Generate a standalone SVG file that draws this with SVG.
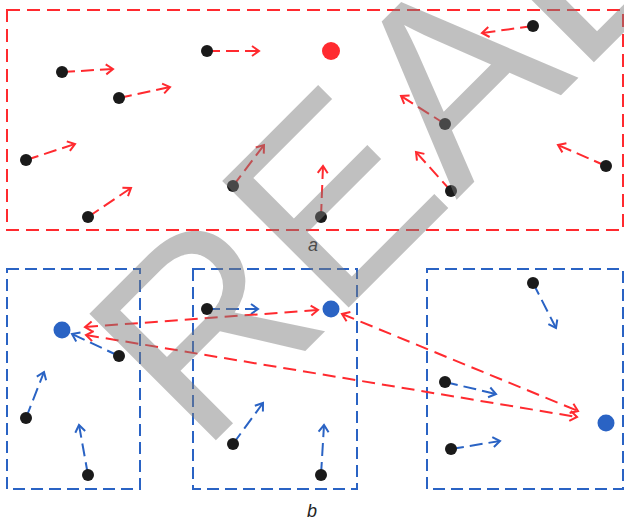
<svg xmlns="http://www.w3.org/2000/svg" width="624" height="522" viewBox="0 0 624 522">
<style>
.box-r{fill:none;stroke:#ff2a2f;stroke-width:2;stroke-dasharray:13 7}
.box-b{fill:none;stroke:#2a63c4;stroke-width:2;stroke-dasharray:12 6}
.ar{fill:none;stroke:#ff2a2f;stroke-width:2;stroke-dasharray:13 6;marker-end:url(#hr)}
.ab{fill:none;stroke:#2a63c4;stroke-width:2;stroke-dasharray:13 6;marker-end:url(#hb)}
.lr{fill:none;stroke:#ff2a2f;stroke-width:2;stroke-dasharray:13 7;marker-start:url(#hr);marker-end:url(#hr)}
.dot{fill:#1a1a1a}
.lbl{font-family:"Liberation Sans",Arial,sans-serif;font-style:italic;font-size:18px;fill:#222;text-anchor:middle}
.wm{font-family:"Liberation Sans",Arial,sans-serif;font-size:260px;fill:#7c7c7c;fill-opacity:0.48}
</style>
<defs>
<marker id="hr" markerUnits="userSpaceOnUse" markerWidth="20" markerHeight="20" viewBox="-10 -10 20 20" refX="0" refY="0" orient="auto-start-reverse" overflow="visible"><path d="M-7,-5 L0,0 L-7,5" fill="none" stroke="#ff2a2f" stroke-width="2"/></marker>
<marker id="hb" markerUnits="userSpaceOnUse" markerWidth="20" markerHeight="20" viewBox="-10 -10 20 20" refX="0" refY="0" orient="auto-start-reverse" overflow="visible"><path d="M-7,-5 L0,0 L-7,5" fill="none" stroke="#2a63c4" stroke-width="2"/></marker>
</defs>
<g id="panel-a">
<rect class="box-r" x="7" y="10" width="616" height="220"/>
<text class="lbl" x="313" y="251">a</text>
</g>
<g id="panel-b">
<rect class="box-b" x="7" y="269" width="133" height="220"/>
<rect class="box-b" x="193" y="269" width="164" height="220"/>
<rect class="box-b" x="427" y="269" width="196" height="220"/>
<text class="lbl" x="312" y="517">b</text>
</g>
<g id="connectors">
<line class="ar" x1="62" y1="72" x2="113" y2="69"/>
<line class="ar" x1="119" y1="98" x2="170" y2="87"/>
<line class="ar" x1="207" y1="51" x2="259" y2="51"/>
<line class="ar" x1="26" y1="160" x2="75" y2="144"/>
<line class="ar" x1="88" y1="217" x2="131" y2="188"/>
<line class="ar" x1="233" y1="186" x2="264" y2="145"/>
<line class="ar" x1="321" y1="217" x2="323" y2="166"/>
<line class="ar" x1="445" y1="124" x2="401" y2="96"/>
<line class="ar" x1="451" y1="191" x2="416" y2="152"/>
<line class="ar" x1="533" y1="26" x2="482" y2="33"/>
<line class="ar" x1="606" y1="166" x2="558" y2="145"/>
<line class="ab" x1="119" y1="356" x2="72" y2="334"/>
<line class="ab" x1="26" y1="418" x2="44" y2="372"/>
<line class="ab" x1="88" y1="475" x2="79" y2="425"/>
<line class="ab" x1="207" y1="309" x2="258" y2="309"/>
<line class="ab" x1="233" y1="444" x2="263" y2="403"/>
<line class="ab" x1="321" y1="475" x2="324" y2="425"/>
<line class="ab" x1="533" y1="283" x2="556" y2="328"/>
<line class="ab" x1="445" y1="382" x2="496" y2="394"/>
<line class="ab" x1="451" y1="449" x2="500" y2="441"/>
<line class="lr" x1="85" y1="327" x2="318" y2="310"/>
<line class="lr" x1="86" y1="335" x2="577" y2="417"/>
<line class="lr" x1="342" y1="314" x2="578" y2="411"/>
</g>
<g id="nodes">
<circle id="n1" class="dot" cx="62" cy="72" r="6"/>
<circle id="n2" class="dot" cx="119" cy="98" r="6"/>
<circle id="n3" class="dot" cx="207" cy="51" r="6"/>
<circle id="n4" class="dot" cx="26" cy="160" r="6"/>
<circle id="n5" class="dot" cx="88" cy="217" r="6"/>
<circle id="n6" class="dot" cx="233" cy="186" r="6"/>
<circle id="n7" class="dot" cx="321" cy="217" r="6"/>
<circle id="n8" class="dot" cx="445" cy="124" r="6"/>
<circle id="n9" class="dot" cx="451" cy="191" r="6"/>
<circle id="n10" class="dot" cx="533" cy="26" r="6"/>
<circle id="n11" class="dot" cx="606" cy="166" r="6"/>
<circle id="red" cx="331" cy="51" r="9" fill="#ff2a2f"/>
<circle id="b1" class="dot" cx="119" cy="356" r="6"/>
<circle id="b2" class="dot" cx="26" cy="418" r="6"/>
<circle id="b3" class="dot" cx="88" cy="475" r="6"/>
<circle id="blue1" cx="62" cy="330" r="8.5" fill="#2a63c4"/>
<circle id="b4" class="dot" cx="207" cy="309" r="6"/>
<circle id="b5" class="dot" cx="233" cy="444" r="6"/>
<circle id="b6" class="dot" cx="321" cy="475" r="6"/>
<circle id="blue2" cx="331" cy="309" r="8.5" fill="#2a63c4"/>
<circle id="b7" class="dot" cx="533" cy="283" r="6"/>
<circle id="b8" class="dot" cx="445" cy="382" r="6"/>
<circle id="b9" class="dot" cx="451" cy="449" r="6"/>
<circle id="blue3" cx="606" cy="423" r="8.5" fill="#2a63c4"/>
</g>
<g id="watermark">
<text class="wm" transform="translate(200.8,455.4) rotate(-45)" x="0" y="0">REAL</text>
</g>
</svg>
